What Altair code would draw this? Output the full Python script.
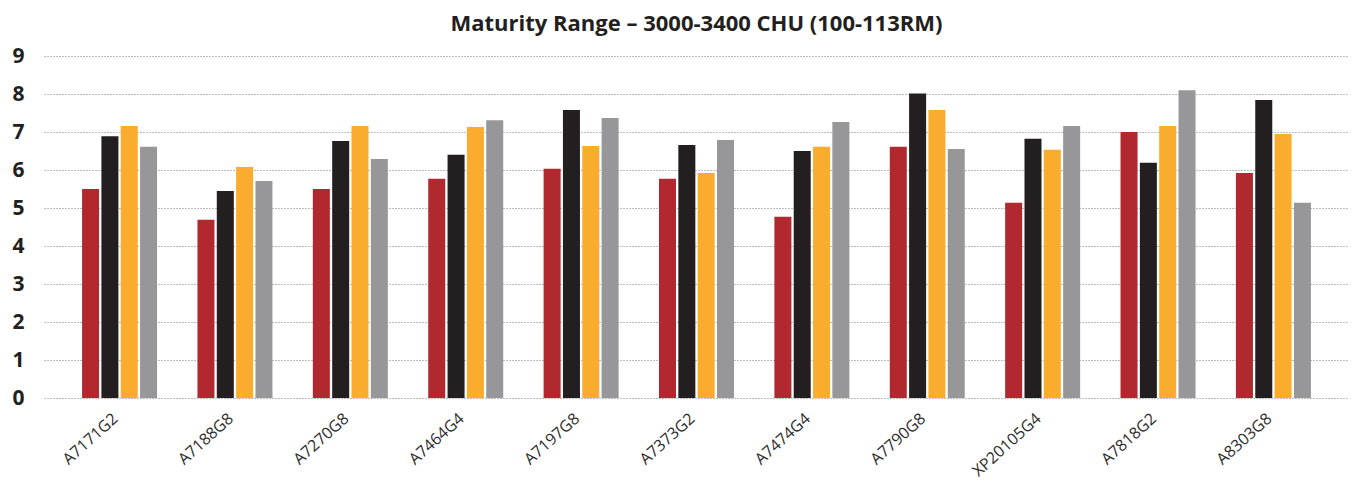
import altair as alt
import pandas as pd

hybrids = ["A7171G2", "A7188G8", "A7270G8", "A7464G4", "A7197G8", "A7373G2",
           "A7474G4", "A7790G8", "XP20105G4", "A7818G2", "A8303G8"]
series = ["S1", "S2", "S3", "S4"]
colors = ["#B1282E", "#231F20", "#F9AC2E", "#97979A"]

s1_vals = [5.50, 4.69, 5.50, 5.77, 6.03, 5.77, 4.77, 6.61, 5.14, 7.00, 5.92]
s2_vals = [6.89, 5.45, 6.76, 6.40, 7.58, 6.66, 6.50, 8.01, 6.82, 6.19, 7.84]
s3_vals = [7.16, 6.08, 7.16, 7.13, 6.63, 5.92, 6.61, 7.58, 6.53, 7.16, 6.95]
s4_vals = [6.61, 5.71, 6.29, 7.31, 7.37, 6.79, 7.26, 6.55, 7.16, 8.10, 5.14]

rows = []
for name, vals in zip(series, [s1_vals, s2_vals, s3_vals, s4_vals]):
    for h, v in zip(hybrids, vals):
        rows.append({"hybrid": h, "series": name, "value": v})
df = pd.DataFrame(rows)

chart = alt.Chart(df).mark_bar().encode(
    x=alt.X("hybrid:N", sort=hybrids, title=None,
            scale=alt.Scale(paddingInner=0.35, paddingOuter=0.33),
            axis=alt.Axis(labelAngle=-42, labelAlign="right", labelBaseline="middle",
                          labelFont="Open Sans", labelFontSize=16, labelColor="#2b2b2b",
                          labelPadding=18, labelOffset=-4, ticks=False, domain=False, grid=False)),
    xOffset=alt.XOffset("series:N", sort=series, scale=alt.Scale(paddingInner=0.12)),
    y=alt.Y("value:Q", title=None, scale=alt.Scale(domain=[0, 9], nice=False),
            axis=alt.Axis(values=list(range(10)), format="d", labelFont="Open Sans",
                          labelFontWeight="bold", labelFontSize=21, labelColor="#231F20",
                          labelPadding=20, ticks=False, domain=False,
                          grid=True, gridColor="#7a7a7a", gridDash=[1, 2], gridWidth=1.2)),
    color=alt.Color("series:N", sort=series, scale=alt.Scale(domain=series, range=colors), legend=None),
).properties(
    width=1305, height=342,
    title=alt.TitleParams("Maturity Range – 3000-3400 CHU (100-113RM)", font="Open Sans",
                          fontSize=22, fontWeight="bold", color="#231F20", anchor="middle",
                          frame="group", offset=9),
    autosize=alt.AutoSizeParams(type="none"),
    padding={"left": 36, "top": 48, "right": 0, "bottom": 83},
).configure_view(stroke=None)

chart.save("out.html", embed_options={"renderer": "svg", "actions": False})
